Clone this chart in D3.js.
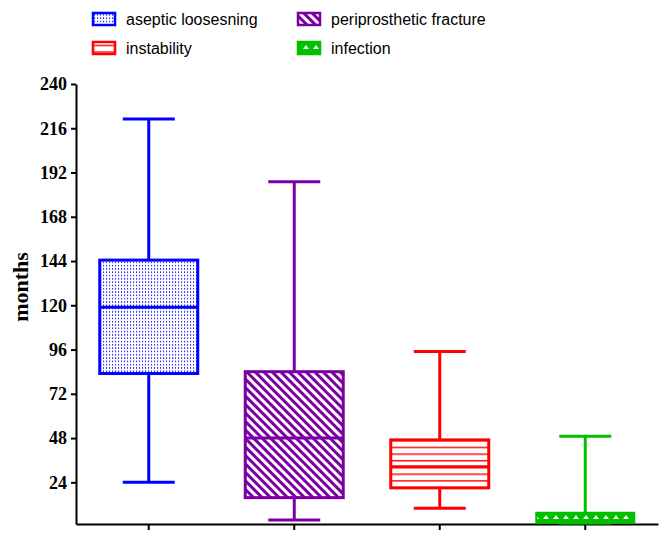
<!DOCTYPE html>
<html><head><meta charset="utf-8">
<script src="https://cdn.jsdelivr.net/npm/d3@7"></script>
<style>body{margin:0;background:#fff}svg{display:block}</style>
</head><body>
<div id="chart"></div>
<script>
const categories = ["aseptic loosesning","periprosthetic fracture","instability","infection"];
const mins    = [24, 3.6, 10, 2];
const q1      = [83, 15.7, 21, 2];
const medians = [119, 48, 32.5, 5];
const q3      = [144.5, 84, 47, 7.5];
const maxs    = [221, 187, 95, 49];
const yTicks  = [24,48,72,96,120,144,168,192,216,240];
const colors  = ["#0000ff","#7a00a3","#ff0000","#00c000"];
const legendOrder = [0,2,1,3]; // column-wise placement

const W=672,H=543;
const svg=d3.select("#chart").append("svg").attr("width",W).attr("height",H);
const defs=svg.append("defs");

// patterns
const pBlue=defs.append("pattern").attr("id","p0").attr("patternUnits","userSpaceOnUse").attr("width",3).attr("height",3.3);
pBlue.append("rect").attr("width",3).attr("height",3.3).attr("fill","#fff");
pBlue.append("rect").attr("x",1).attr("y",1).attr("width",1.1).attr("height",1.3).attr("fill",colors[0]);

const pPur=defs.append("pattern").attr("id","p1").attr("patternUnits","userSpaceOnUse").attr("width",6).attr("height",6).attr("patternTransform","rotate(-45)");
pPur.append("rect").attr("width",6).attr("height",6).attr("fill","#fff");
pPur.append("rect").attr("width",3).attr("height",6).attr("fill",colors[1]);

const pRed=defs.append("pattern").attr("id","p2").attr("patternUnits","userSpaceOnUse").attr("width",10).attr("height",6.7).attr("y",440);
pRed.append("rect").attr("width",10).attr("height",6.7).attr("fill","#fff");
pRed.append("rect").attr("y",0).attr("width",10).attr("height",1.4).attr("fill",colors[2]);

const pGr=defs.append("pattern").attr("id","p3").attr("patternUnits","userSpaceOnUse").attr("width",10).attr("height",10).attr("x",1).attr("y",512);
pGr.append("rect").attr("width",10).attr("height",10).attr("fill",colors[3]);
pGr.append("path").attr("d","M2,7 L5,3 L8,7 Z").attr("fill","#fff");

const x=d3.scaleBand().domain(categories).range([76,658]);
const y=d3.scaleLinear().domain([1.4,240]).range([524,84]);
const boxW=98, capW=52;

// axes
const yAxis=svg.append("g").attr("transform","translate(76,0)")
  .call(d3.axisLeft(y).tickValues(yTicks).tickSize(5).tickSizeOuter(0).tickFormat(d3.format("d")));
yAxis.select(".domain").attr("stroke","#000").attr("stroke-width",2);
yAxis.selectAll(".tick line").attr("stroke","#000").attr("stroke-width",2);
yAxis.selectAll(".tick text").attr("font-family","'Liberation Serif',serif").attr("font-weight","bold")
  .attr("font-size",18).attr("fill","#000").attr("dx",-1);

const xAxis=svg.append("g").attr("transform","translate(0,524)")
  .call(d3.axisBottom(x).tickSize(6).tickSizeOuter(0).tickFormat(""));
xAxis.select(".domain").attr("stroke","#000").attr("stroke-width",2);
xAxis.selectAll(".tick line").attr("stroke","#000").attr("stroke-width",2);

svg.append("text").attr("transform","translate(28,287) rotate(-90)")
  .attr("text-anchor","middle").attr("font-family","'Liberation Serif',serif")
  .attr("font-weight","bold").attr("font-size",22).text("months");

// boxes
categories.forEach((c,i)=>{
  const cx=x(c)+x.bandwidth()/2, col=colors[i];
  const g=svg.append("g").attr("stroke",col).attr("stroke-width",3).attr("fill","none");
  g.append("line").attr("x1",cx).attr("x2",cx).attr("y1",y(maxs[i])).attr("y2",y(q3[i]));
  g.append("line").attr("x1",cx).attr("x2",cx).attr("y1",y(q1[i])).attr("y2",y(mins[i]));
  g.append("line").attr("x1",cx-capW/2).attr("x2",cx+capW/2).attr("y1",y(maxs[i])).attr("y2",y(maxs[i]));
  g.append("line").attr("x1",cx-capW/2).attr("x2",cx+capW/2).attr("y1",y(mins[i])).attr("y2",y(mins[i]));
  g.append("rect").attr("x",cx-boxW/2).attr("width",boxW)
    .attr("y",y(q3[i])).attr("height",y(q1[i])-y(q3[i]))
    .attr("fill","url(#p"+i+")").attr("stroke-width",i===3?2:3);
  if(i!==3) g.append("line").attr("x1",cx-boxW/2).attr("x2",cx+boxW/2).attr("y1",y(medians[i])).attr("y2",y(medians[i]));
});

// legend
legendOrder.forEach((i,k)=>{
  const col=k<2?0:1, row=k%2;
  const lx=[93,298][col], ly=[13,42][row];
  svg.append("rect").attr("x",lx).attr("y",ly).attr("width",22).attr("height",12)
    .attr("fill","url(#p"+i+")").attr("stroke",colors[i]).attr("stroke-width",2.5);
  svg.append("text").attr("x",lx+33).attr("y",ly+6).attr("dy","0.35em")
    .attr("font-family","'Liberation Sans',Arial,sans-serif").attr("font-size",16)
    .attr("fill","#000").text(categories[i]);
});
</script>
</body></html>
